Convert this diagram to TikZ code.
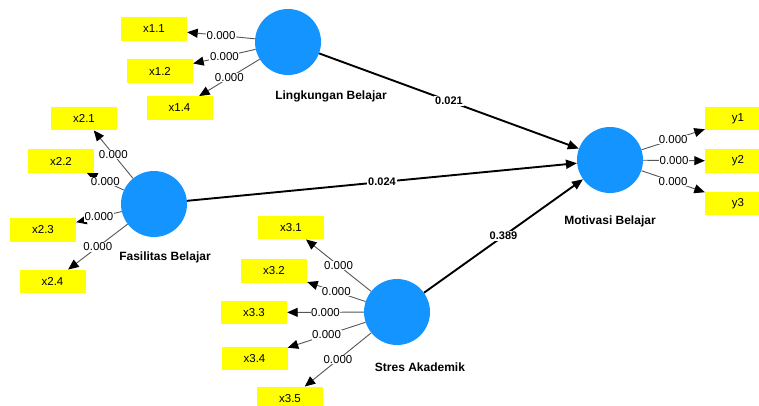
\documentclass[tikz,border=0pt]{standalone}
\usepackage{fontspec}
\setmainfont{Liberation Sans}
\usetikzlibrary{arrows.meta}
\definecolor{cblue}{RGB}{20,148,255}
\definecolor{cyel}{RGB}{255,255,0}
\definecolor{lgray}{RGB}{85,85,85}
\begin{document}
\begin{tikzpicture}[x=1pt,y=-1pt,
  construct/.style={circle,fill=cblue,minimum size=66pt,inner sep=0pt},
  indic/.style={fill=cyel,minimum width=66pt,minimum height=23.5pt,inner sep=0pt,font=\fontsize{11.5}{13}\selectfont},
  cname/.style={font=\fontsize{12}{14}\selectfont\bfseries},
  loadline/.style={draw=lgray,line width=0.9pt,-{Triangle[length=10.5pt,width=9pt,color=black]}},
  pathline/.style={draw=black,line width=1.9pt,-{Triangle[length=11pt,width=9pt]}},
  lval/.style={fill=white,inner sep=0.6pt,font=\fontsize{11.5}{13}\selectfont},
  pval/.style={fill=white,inner sep=0.8pt,font=\fontsize{11}{13}\selectfont\bfseries}]
\useasboundingbox (0,0) rectangle (759,405);
\clip (0,0) rectangle (759,405);
% constructs
\node[construct] (LB) at (288,42) {};
\node[construct] (FB) at (154,204) {};
\node[construct] (SA) at (397,312) {};
\node[construct] (MB) at (610,160) {};
\node[cname] (LBt) at (331,96) {Lingkungan Belajar};
\node[cname] (FBt) at (165,257) {Fasilitas Belajar};
\node[cname] (SAt) at (420,367) {Stres Akademik};
\node[cname] (MBt) at (610,221) {Motivasi Belajar};
% indicators
\node[indic] (x11) at (154,29) {x1.1};
\node[indic] (x12) at (160,71) {x1.2};
\node[indic] (x14) at (179.5,108) {x1.4};
\node[indic] (x21) at (84,118.5) {x2.1};
\node[indic] (x22) at (61,161) {x2.2};
\node[indic] (x23) at (43,230) {x2.3};
\node[indic] (x24) at (52.5,281.5) {x2.4};
\node[indic] (x31) at (291,227.5) {x3.1};
\node[indic] (x32) at (274,271) {x3.2};
\node[indic] (x33) at (254,312.5) {x3.3};
\node[indic] (x34) at (254.5,358.5) {x3.4};
\node[indic] (x35) at (290,398.5) {x3.5};
\node[indic] (y1) at (738,118.5) {y1};
\node[indic] (y2) at (738,161) {y2};
\node[indic] (y3) at (738,203.5) {y3};
% loadings
\foreach \c/\i in {LB/x11,LB/x12,LB/x14,FB/x21,FB/x22,FB/x23,FB/x24,SA/x31,SA/x32,SA/x33,SA/x34,SA/x35,MB/y1,MB/y2,MB/y3}{
  \path[loadline] (\c) -- node[lval] {0.000} (\i);
}
% structural paths
\path[pathline] (LB) -- node[pval] {0.021} (MB);
\path[pathline] (FB) -- node[pval] {0.024} (MB);
\path[pathline] (SA) -- node[pval] {0.389} (MB);
\end{tikzpicture}
\end{document}
